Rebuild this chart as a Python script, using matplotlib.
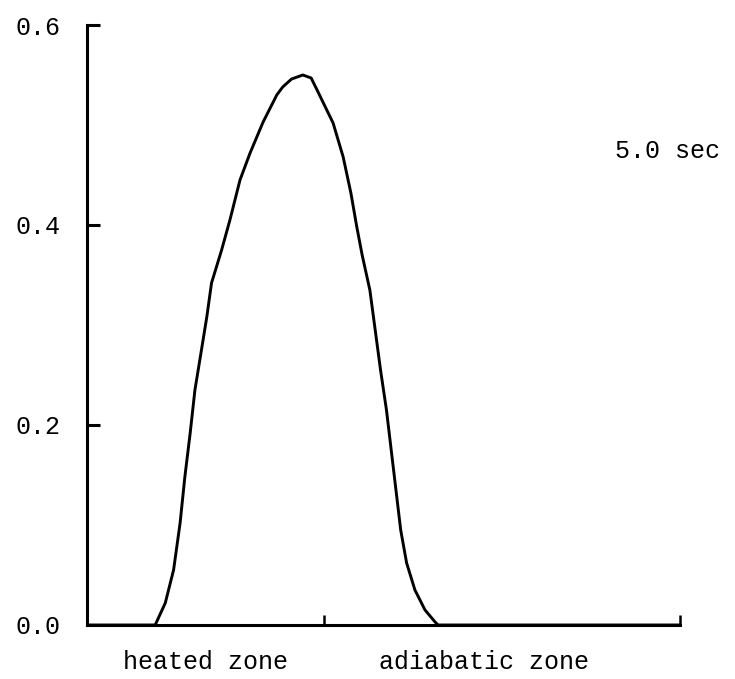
# concentration profile at 5.0 sec

import numpy as np
import matplotlib.pyplot as plt

# curve (x: 0..10 along the tube, y: value)
x_pts = [0.0, 1.15, 1.32, 1.46, 1.57, 1.65, 1.74, 1.82, 1.93, 2.02, 2.10, 2.27,
         2.41, 2.58, 2.75, 2.97, 3.20, 3.30, 3.45, 3.64, 3.78, 3.88, 4.15, 4.32,
         4.45, 4.55, 4.64, 4.77, 4.86, 4.95, 5.05, 5.13, 5.21, 5.29, 5.39, 5.53,
         5.70, 5.87, 5.92, 10.0]
y_pts = [0.0, 0.0, 0.022, 0.055, 0.102, 0.148, 0.192, 0.235, 0.275, 0.308, 0.342, 0.375,
         0.405, 0.445, 0.472, 0.503, 0.530, 0.538, 0.546, 0.550, 0.547, 0.535, 0.502, 0.468,
         0.432, 0.398, 0.370, 0.335, 0.295, 0.255, 0.215, 0.175, 0.135, 0.095, 0.062, 0.035,
         0.015, 0.003, 0.0, 0.0]

y_ticks = [0.0, 0.2, 0.4, 0.6]
y_labels = ['0.0', '0.2', '0.4', '0.6']
zone_edge = 4.0
zone_names = ['heated zone', 'adiabatic zone']
zone_x = [2.0, 6.7]
time_label = '5.0 sec'

plt.rcParams['font.family'] = ['Liberation Mono', 'DejaVu Sans Mono']

fig = plt.figure(figsize=(7.35, 6.79), dpi=100)
ax = fig.add_axes([87/735, 54/679, 593/735, 600/679])

ax.plot(x_pts, y_pts, color='black', lw=2.1, solid_joinstyle='round')

ax.set_xlim(0, 10)
ax.set_ylim(0, 0.6)
ax.spines['top'].set_visible(False)
ax.spines['right'].set_visible(False)
ax.spines['left'].set_linewidth(2.2)
ax.spines['bottom'].set_linewidth(2.2)

ax.set_yticks(y_ticks)
ax.set_yticklabels(y_labels, fontsize=18)
ax.tick_params(axis='y', direction='in', length=9, width=2.2, pad=19)
ax.yaxis.get_major_ticks()[0].tick1line.set_visible(False)

ax.set_xticks([zone_edge, 10])
ax.set_xticklabels([])
ax.tick_params(axis='x', direction='in', length=7, width=1.8)

for name, xc in zip(zone_names, zone_x):
    ax.text(xc, -0.037, name, ha='center', va='center', fontsize=18, clip_on=False)

ax.text(8.9, 0.474, time_label, ha='left', va='center', fontsize=18, clip_on=False)

fig.savefig('out.png', dpi=100)
